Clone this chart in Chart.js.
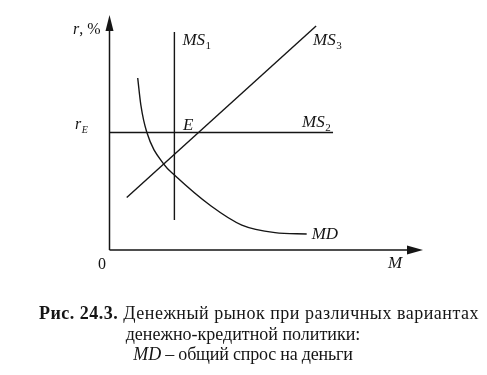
<!DOCTYPE html>
<html>
<head>
<meta charset="utf-8">
<script src="https://cdn.jsdelivr.net/npm/chart.js@4/dist/chart.umd.min.js"></script>
<style>
  html,body{margin:0;padding:0;background:#fff;}
  #wrap{width:487px;height:375px;position:relative;}
</style>
</head>
<body>
<div id="wrap"><canvas id="c" width="487" height="375"></canvas></div>
<script>
// ---- data (M on x, r in % on y; arbitrary units 0..100) ----
const ms1M = [20.7, 20.7];
const ms1R = [12.8, 92.8];
const ms2M = [0, 71.3];
const ms2R = [50, 50];
const ms3M = [5.5, 65.9];
const ms3R = [22.3, 95.3];
const mdM = [9.0, 10.0, 11.9, 17.5, 20.7, 32.4, 42.2, 52.8, 62.9];
const mdR = [73.2, 61.7, 50.1, 36.2, 31.9, 18.7, 10.6, 7.4, 6.8];
const seriesLabels = ['MS1', 'MS2', 'MS3', 'MD'];
const axisLabels = { y: 'r, %', x: 'M', origin: '0', rE: 'r', rESub: 'E', eq: 'E' };
const captionBold = 'Рис. 24.3.';
const captionLines = [
  ' Денежный рынок при различных вариантах',
  'денежно-кредитной политики:',
  ' – общий спрос на деньги'
];

function pts(xs, ys){ return xs.map((x,i)=>({x:x, y:ys[i]})); }

const SERIF = "'Liberation Serif', 'DejaVu Serif', serif";
const INK = '#151515';

function subLabel(ctx, main, sub, x, y, size, subItalic){
  ctx.font = 'italic ' + size + 'px ' + SERIF;
  ctx.fillText(main, x, y);
  const w = ctx.measureText(main).width;
  ctx.font = (subItalic ? 'italic ' : '') + Math.round(size*0.62) + 'px ' + SERIF;
  ctx.fillText(sub, x + w + 0.5, y + 4);
}

// draw a run of [font, text] segments centred on cx, with optional letter spacing
function runLine(ctx, segs, cx, y, spacing){
  ctx.letterSpacing = (spacing || 0) + 'px';
  let w = 0;
  segs.forEach(s => { ctx.font = s[0]; w += ctx.measureText(s[1]).width; });
  let x = cx - w / 2;
  segs.forEach(s => { ctx.font = s[0]; ctx.fillText(s[1], x, y); x += ctx.measureText(s[1]).width; });
  ctx.letterSpacing = '0px';
}

const decor = {
  id: 'decor',
  afterDatasetsDraw(chart){
    const ctx = chart.ctx;
    const xs = chart.scales.x, ys = chart.scales.y;
    const x0 = xs.getPixelForValue(0), y0 = ys.getPixelForValue(0);
    const xEnd = xs.getPixelForValue(100), yEnd = ys.getPixelForValue(100);
    ctx.save();
    ctx.strokeStyle = INK; ctx.fillStyle = INK; ctx.lineWidth = 1.5;
    // axes
    ctx.beginPath();
    ctx.moveTo(x0, y0); ctx.lineTo(x0, yEnd + 10);
    ctx.moveTo(x0, y0); ctx.lineTo(xEnd - 10, y0);
    ctx.stroke();
    // arrowheads
    ctx.beginPath();
    ctx.moveTo(x0, yEnd); ctx.lineTo(x0 - 4, yEnd + 16); ctx.lineTo(x0 + 4, yEnd + 16); ctx.closePath();
    ctx.fill();
    ctx.beginPath();
    ctx.moveTo(xEnd, y0); ctx.lineTo(xEnd - 16, y0 - 4.5); ctx.lineTo(xEnd - 16, y0 + 4.5); ctx.closePath();
    ctx.fill();

    ctx.textBaseline = 'alphabetic';
    ctx.textAlign = 'left';
    // axis labels
    ctx.font = 'italic 16px ' + SERIF;
    ctx.fillText('r', 73, 34);
    ctx.font = '16px ' + SERIF;
    ctx.fillText(', %', 73 + ctx.measureText('r').width + 1, 34);
    ctx.font = '16px ' + SERIF;
    ctx.fillText(axisLabels.origin, 98, 269);
    ctx.font = 'italic 17px ' + SERIF;
    ctx.fillText(axisLabels.x, 388, 268);
    // r_E
    const yE = ys.getPixelForValue(ms2R[0]);
    subLabel(ctx, axisLabels.rE, axisLabels.rESub, 75, yE - 4, 16, true);
    // E
    ctx.font = 'italic 17px ' + SERIF;
    ctx.fillText(axisLabels.eq, 183, yE - 3);
    // series labels
    const p1 = {x: xs.getPixelForValue(ms1M[1]), y: ys.getPixelForValue(ms1R[1])};
    subLabel(ctx, 'MS', '1', p1.x + 8, p1.y + 13, 17);
    const p3 = {x: xs.getPixelForValue(ms3M[1]), y: ys.getPixelForValue(ms3R[1])};
    subLabel(ctx, 'MS', '3', p3.x - 3, p3.y + 19, 17);
    const p2 = {x: xs.getPixelForValue(ms2M[1]), y: yE};
    subLabel(ctx, 'MS', '2', p2.x - 31, p2.y - 6, 17);
    const pd = {x: xs.getPixelForValue(mdM[mdM.length-1]), y: ys.getPixelForValue(mdR[mdR.length-1])};
    ctx.font = 'italic 17px ' + SERIF;
    ctx.fillText('MD', pd.x + 5, pd.y + 5);

    // caption
    const size = 18;
    const bold = 'bold ' + size + 'px ' + SERIF;
    const reg = size + 'px ' + SERIF;
    const ital = 'italic ' + size + 'px ' + SERIF;
    runLine(ctx, [[bold, captionBold], [reg, captionLines[0]]], 259, 319, 0.5);
    runLine(ctx, [[reg, captionLines[1]]], 243, 340, 0);
    runLine(ctx, [[ital, 'MD'], [reg, captionLines[2]]], 243, 359.5, -0.2);
    ctx.restore();
  }
};

const lineStyle = { showLine: true, pointRadius: 0, borderColor: INK, borderWidth: 1.4, fill: false };

new Chart(document.getElementById('c'), {
  type: 'scatter',
  data: {
    datasets: [
      Object.assign({ label: seriesLabels[0], data: pts(ms1M, ms1R) }, lineStyle),
      Object.assign({ label: seriesLabels[1], data: pts(ms2M, ms2R) }, lineStyle),
      Object.assign({ label: seriesLabels[2], data: pts(ms3M, ms3R) }, lineStyle),
      Object.assign({ label: seriesLabels[3], data: pts(mdM, mdR), cubicInterpolationMode: 'monotone' }, lineStyle)
    ]
  },
  options: {
    responsive: false,
    animation: false,
    layout: { padding: { left: 109.5, right: 64, top: 15, bottom: 125 } },
    plugins: { legend: { display: false }, tooltip: { enabled: false } },
    scales: {
      x: { type: 'linear', min: 0, max: 100, display: false },
      y: { type: 'linear', min: 0, max: 100, display: false }
    }
  },
  plugins: [decor]
});
</script>
</body>
</html>
